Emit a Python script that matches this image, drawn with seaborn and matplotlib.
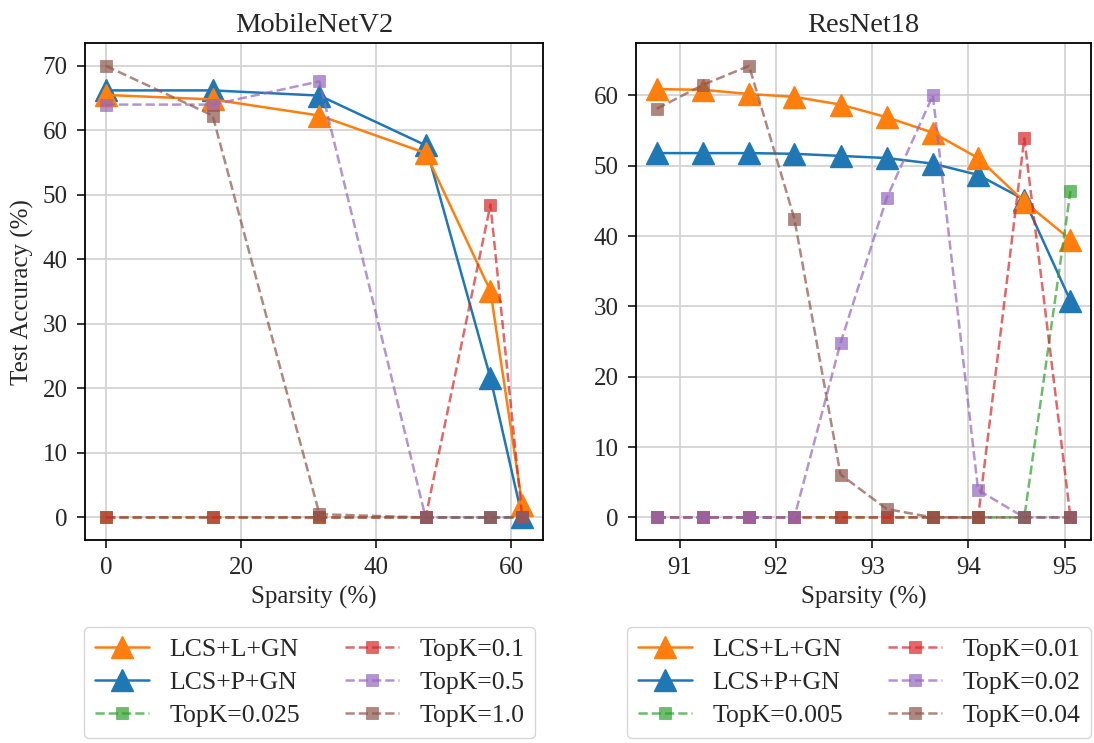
import numpy as np
import matplotlib
matplotlib.use("Agg")
import matplotlib.pyplot as plt
import seaborn as sns

# MobileNetV2 sweep
mb_sparsity = [0.0, 15.8, 31.6, 47.3, 56.9, 61.6]
mb_lcs_l = [65.5, 64.8, 62.3, 56.5, 35.1, 2.0]
mb_lcs_p = [66.2, 66.2, 65.4, 57.7, 21.6, 0.0]
mb_topk_0025 = [0.0, 0.0, 0.0, 0.0, 0.0, 0.0]
mb_topk_01 = [0.0, 0.0, 0.0, 0.0, 48.5, 0.0]
mb_topk_05 = [64.0, 64.0, 67.6, 0.0, 0.0, 0.0]
mb_topk_10 = [70.0, 62.3, 0.5, 0.0, 0.0, 0.0]
mb_topk_labels = ["TopK=0.025", "TopK=0.1", "TopK=0.5", "TopK=1.0"]

# ResNet18 sweep
rn_sparsity = [90.76, 91.24, 91.72, 92.19, 92.67, 93.15, 93.63, 94.10, 94.58, 95.06]
rn_lcs_l = [60.9, 60.8, 60.2, 59.8, 58.7, 56.9, 54.7, 51.1, 44.9, 39.5]
rn_lcs_p = [51.8, 51.8, 51.8, 51.7, 51.4, 51.1, 50.3, 48.7, 45.2, 30.8]
rn_topk_0005 = [0.0, 0.0, 0.0, 0.0, 0.0, 0.0, 0.0, 0.0, 0.0, 46.4]
rn_topk_001 = [0.0, 0.0, 0.0, 0.0, 0.0, 0.0, 0.0, 0.0, 53.9, 0.0]
rn_topk_002 = [0.0, 0.0, 0.0, 0.0, 24.8, 45.4, 60.0, 3.9, 0.0, 0.0]
rn_topk_004 = [58.1, 61.5, 64.2, 42.5, 6.1, 1.2, 0.0, 0.0, 0.0, 0.0]
rn_topk_labels = ["TopK=0.005", "TopK=0.01", "TopK=0.02", "TopK=0.04"]

method_labels = ["LCS+L+GN", "LCS+P+GN"]
titles = ["MobileNetV2", "ResNet18"]

sns.set_theme(style="ticks")
plt.rcParams["font.family"] = ["Liberation Serif", "DejaVu Serif"]

c_orange, c_blue, c_green, c_red, c_purple, c_brown = (
    "#ff7f0e", "#1f77b4", "#2ca02c", "#d62728", "#9467bd", "#8c564b")
topk_colors = [c_green, c_red, c_purple, c_brown]

fig = plt.figure(figsize=(10.94, 7.43), dpi=100)
ax_l = fig.add_axes([0.0777, 0.2732, 0.4187, 0.6685])
ax_r = fig.add_axes([0.5814, 0.2732, 0.4160, 0.6685])


def draw_panel(ax, xs, lcs_l, lcs_p, topks, topk_labels, title):
    sns.lineplot(x=xs, y=lcs_p, ax=ax, color=c_blue, marker="^", markersize=15.5,
                 markeredgecolor=c_blue, markeredgewidth=1.0, linewidth=1.8,
                 label=method_labels[1], zorder=3)
    sns.lineplot(x=xs, y=lcs_l, ax=ax, color=c_orange, marker="^", markersize=15.5,
                 markeredgecolor=c_orange, markeredgewidth=1.0, linewidth=1.8,
                 label=method_labels[0], zorder=3.1)
    for vals, lab, col in zip(topks, topk_labels, topk_colors):
        sns.lineplot(x=xs, y=vals, ax=ax, color=col, marker="s", markersize=8.5,
                     markeredgecolor=col, markeredgewidth=0.5, linewidth=1.8,
                     linestyle="--", alpha=0.7, label=lab, zorder=4)
    handles, labels = ax.get_legend_handles_labels()
    lookup = dict(zip(labels, handles))
    order = method_labels + topk_labels
    ax.legend([lookup[k] for k in order], order, ncol=2, loc="upper center",
              bbox_to_anchor=(0.49, -0.175), fontsize=18.5, frameon=True,
              fancybox=True, edgecolor="#cccccc", columnspacing=1.75,
              handlelength=2.1, handletextpad=0.8, borderpad=0.42,
              labelspacing=0.4, borderaxespad=0.0)
    ax.grid(True, color="#d3d3d3", linewidth=1.3)
    ax.set_axisbelow(True)
    ax.set_title(title, fontsize=20.5, pad=8)
    ax.set_xlabel("Sparsity (%)", fontsize=18, labelpad=5)
    ax.tick_params(labelsize=18, length=5.5, width=1.1, color="black", pad=7)
    for sp in ax.spines.values():
        sp.set_color("black")
        sp.set_linewidth(1.3)


draw_panel(ax_l, mb_sparsity, mb_lcs_l, mb_lcs_p,
           [mb_topk_0025, mb_topk_01, mb_topk_05, mb_topk_10], mb_topk_labels, titles[0])
draw_panel(ax_r, rn_sparsity, rn_lcs_l, rn_lcs_p,
           [rn_topk_0005, rn_topk_001, rn_topk_002, rn_topk_004], rn_topk_labels, titles[1])

ax_l.set_ylabel("Test Accuracy (%)", fontsize=18, labelpad=6)
ax_r.set_ylabel("")
ax_l.set_xticks([0, 20, 40, 60])
ax_l.set_yticks(np.arange(0, 71, 10))
ax_r.set_xticks([91, 92, 93, 94, 95])
ax_r.set_yticks(np.arange(0, 61, 10))

fig.savefig("out.png", dpi=100)
